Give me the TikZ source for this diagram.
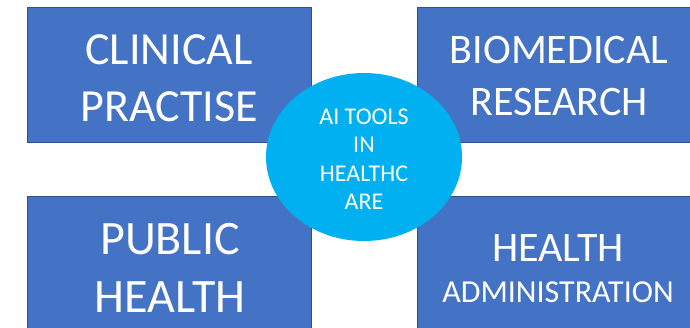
\documentclass[tikz,border=0pt]{standalone}
\usepackage{fontspec}
\setmainfont{Carlito}
\usetikzlibrary{shapes.geometric}
\definecolor{boxblue}{HTML}{4472C4}
\definecolor{boxedge}{HTML}{2F528F}
\definecolor{hubcyan}{HTML}{00B0F0}
\begin{document}
\begin{tikzpicture}[x=1pt,y=-1pt,
  area/.style={draw=boxedge,line width=1.3pt,fill=boxblue,rectangle,inner sep=0pt,anchor=north west},
  areatext/.style={text=white,align=center,inner sep=0pt},
  hub/.style={ellipse,fill=hubcyan,draw=none,inner sep=0pt,minimum width=196pt,minimum height=168pt},
  hubtext/.style={text=white,align=center,inner sep=0pt,font=\fontsize{24}{28.5}\selectfont}]
\useasboundingbox (0,0) rectangle (690,328);
\begin{scope}
\clip (0,0) rectangle (690,328);
% four quadrant boxes
\node[area,minimum width=284pt,minimum height=135pt] (clin) at (27,7) {};
\node[area,minimum width=290pt,minimum height=135pt] (bio) at (417,7) {};
\node[area,minimum width=284pt,minimum height=145pt] (pub) at (27,196) {};
\node[area,minimum width=290pt,minimum height=145pt] (adm) at (417,196) {};
% box labels
\node[areatext,font=\fontsize{46}{57}\selectfont] (clinT) at (169,78.5) {CLINICAL\\PRACTISE};
\node[areatext,font=\fontsize{42}{52}\selectfont] (bioT) at (559,76.5) {BIOMEDICAL\\RESEARCH};
\node[areatext,font=\fontsize{48}{58}\selectfont] (pubT) at (170,267.5) {PUBLIC\\HEALTH};
\node[areatext,anchor=base,font=\fontsize{42}{50}\selectfont] (admT1) at (558,262) {HEALTH};
\node[areatext,anchor=base,font=\fontsize{32}{38}\selectfont] (admT2) at (558,302) {ADMINISTRATION};
% central hub
\node[hub] (hubE) at (364,157) {};
\node[hubtext] (hubT) at (364,159) {AI TOOLS\\IN\\HEALTHC\\ARE};
\end{scope}
\end{tikzpicture}
\end{document}
